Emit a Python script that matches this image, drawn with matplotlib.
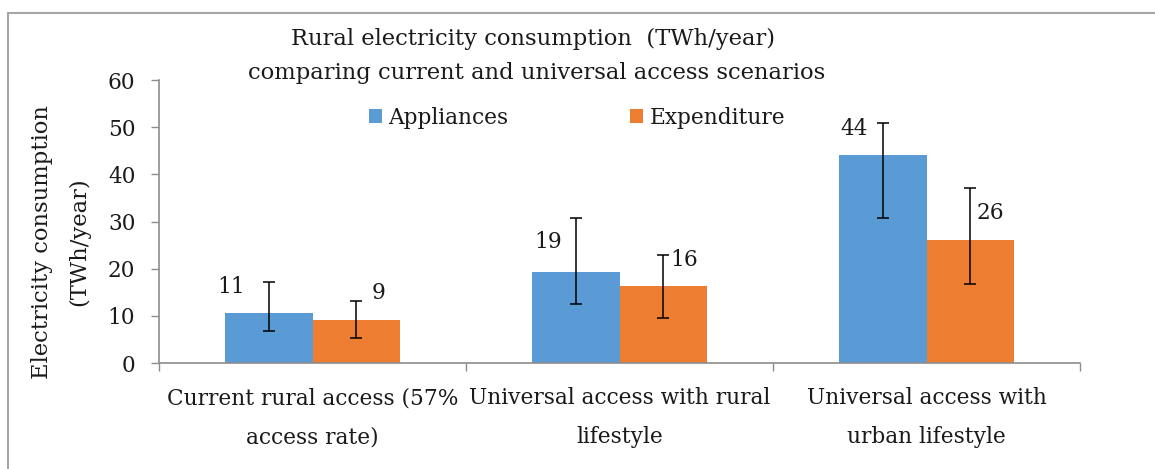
import matplotlib
matplotlib.use("Agg")
import matplotlib.pyplot as plt
import numpy as np
from matplotlib.patches import Rectangle

categories = ["Current rural access (57%\naccess rate)",
              "Universal access with rural\nlifestyle",
              "Universal access with\nurban lifestyle"]
series_names = ["Appliances", "Expenditure"]
appliances = [10.7, 19.2, 44.1]
expenditure = [9.2, 16.3, 26.0]
appliances_low = [6.8, 12.5, 30.7]
appliances_high = [17.2, 30.7, 50.9]
expenditure_low = [5.3, 9.6, 16.8]
expenditure_high = [13.1, 23.0, 37.1]
y_ticks = [0, 10, 20, 30, 40, 50, 60]

# label offsets in pixels (dx, dy) relative to the bar-top centre
app_label_off = [(-38, 26), (-28, 30), (-29, 26)]
exp_label_off = [(22, 27), (21, 26), (20, 27)]

W, H, DPI = 1155, 469, 100
fig = plt.figure(figsize=(W / DPI, H / DPI), dpi=DPI)
plt.rcParams['font.family'] = ['DejaVu Serif']
FS = 15.6
TFS = 16.3
txt = '#1a1a1a'
axis_col = '#8c8c8c'
blue = '#5B9BD5'
orange = '#ED7D31'

ax = fig.add_axes([159 / W, 1 - 363 / H, (1080 - 159) / W, (363 - 80) / H])

x = np.arange(len(categories))
bw = 0.285
xa = x - bw / 2
xe = x + bw / 2
app = np.array(appliances)
exp_ = np.array(expenditure)
ax.bar(xa, app, bw, color=blue, label=series_names[0])
ax.bar(xe, exp_, bw, color=orange, label=series_names[1])

ea = [app - np.array(appliances_low), np.array(appliances_high) - app]
ee = [exp_ - np.array(expenditure_low), np.array(expenditure_high) - exp_]
ax.errorbar(xa, app, yerr=ea, fmt='none', ecolor='black', elinewidth=1.1, capsize=4.5, capthick=1.1)
ax.errorbar(xe, exp_, yerr=ee, fmt='none', ecolor='black', elinewidth=1.1, capsize=4.5, capthick=1.1)

pt = 72 / DPI
for xi, v, (dx, dy) in zip(xa, app, app_label_off):
    ax.annotate(f"{v:.0f}", (xi, v), xytext=(dx * pt, dy * pt), textcoords='offset points',
                ha='center', va='center', fontsize=FS, color=txt)
for xi, v, (dx, dy) in zip(xe, exp_, exp_label_off):
    ax.annotate(f"{v:.0f}", (xi, v), xytext=(dx * pt, dy * pt), textcoords='offset points',
                ha='center', va='center', fontsize=FS, color=txt)

ax.set_xlim(-0.5, len(categories) - 0.5)
ax.set_ylim(0, 60)
ax.set_yticks(y_ticks)
ax.set_yticklabels([str(t) for t in y_ticks], fontsize=FS, color=txt)
ax.tick_params(axis='y', length=6, width=1, color=axis_col, pad=11)

ax.set_xticks(np.arange(len(categories) + 1) - 0.5)
ax.set_xticklabels([])
ax.tick_params(axis='x', length=6, width=1, color=axis_col)
for xi, c in zip(x, categories):
    ax.text(xi, -0.085, c, transform=ax.get_xaxis_transform(), ha='center', va='top',
            fontsize=FS, color=txt, linespacing=2.0)

for s in ['top', 'right']:
    ax.spines[s].set_visible(False)
for s in ['left', 'bottom']:
    ax.spines[s].set_color(axis_col)
    ax.spines[s].set_linewidth(1.2)

ax.set_ylabel("Electricity consumption\n(TWh/year)", fontsize=16.3, color=txt, linespacing=1.85)
ax.yaxis.set_label_coords((90 - 159) / (1080 - 159), (363 - 242) / (363 - 80))

ax.legend(loc='center', bbox_to_anchor=((577 - 159) / (1080 - 159), (363 - 118) / (363 - 80)),
          ncol=2, frameon=False, fontsize=FS, handlelength=0.6, handleheight=0.6,
          handletextpad=0.3, columnspacing=5.6, labelcolor=txt)

fig.text(533 / W, 1 - 39 / H, "Rural electricity consumption  (TWh/year)", ha='center', va='center',
         fontsize=TFS, color=txt)
fig.text(537 / W, 1 - 73 / H, "comparing current and universal access scenarios", ha='center', va='center',
         fontsize=TFS, color=txt)

fig.patches.append(Rectangle((8 / W, -0.1), 1.2, 1 - 13 / H + 0.1, transform=fig.transFigure,
                             fill=False, edgecolor='#a6a6a6', linewidth=1.5))

fig.savefig("out.png", dpi=DPI)
